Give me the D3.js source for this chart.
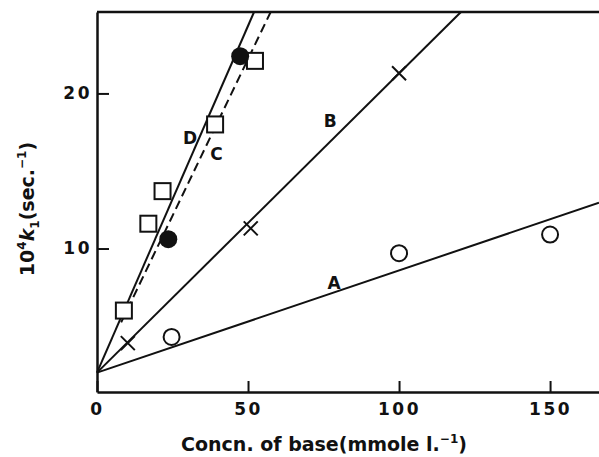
<!DOCTYPE html>
<html>
<head>
<meta charset="utf-8">
<script src="https://cdn.jsdelivr.net/npm/d3@7"></script>
<style>
  body { margin: 0; background: #fff; }
  svg text { font-family: "DejaVu Sans", sans-serif; font-weight: 700; fill: #111; }
</style>
</head>
<body>
<svg id="chart"></svg>
<script>
const size = { width: 599, height: 457 };
const margin = { left: 97, right: 0, top: 12, bottom: 65 };

// series A: open circles
const seriesA = [
  { x: 24.7, y: 4.3 },
  { x: 100, y: 9.7 },
  { x: 150, y: 10.9 },
];
// series B: crosses
const seriesB = [
  { x: 10.2, y: 3.9 },
  { x: 50.9, y: 11.3 },
  { x: 100, y: 21.3 },
];
// series C: filled circles
const seriesC = [
  { x: 23.6, y: 10.6 },
  { x: 47.4, y: 22.4 },
];
// series D: open squares
const seriesD = [
  { x: 8.9, y: 6.0 },
  { x: 17.0, y: 11.6 },
  { x: 21.7, y: 13.7 },
  { x: 39.1, y: 18.0 },
  { x: 52.3, y: 22.1 },
];

// fitted lines (end points)
const lineA = [{ x: 0, y: 2.0 }, { x: 166.2, y: 12.95 }];
const lineB = [{ x: 0, y: 2.0 }, { x: 120.5, y: 25.25 }];
const lineC = [{ x: 8, y: 5.24 }, { x: 57.5, y: 25.25 }];
const lineD = [{ x: 0, y: 2.0 }, { x: 52.0, y: 25.25 }];

const xTicks = [0, 50, 100, 150];
const yTicks = [10, 20];
const curveLabels = [
  { text: "A", x: 78.5, y: 7.8 },
  { text: "B", x: 77.2, y: 18.2 },
  { text: "C", x: 39.6, y: 16.1 },
  { text: "D", x: 30.8, y: 17.1 },
];

const svg = d3
  .select("#chart")
  .attr("width", size.width)
  .attr("height", size.height);

const x = d3
  .scaleLinear()
  .domain([0, 166.2])
  .range([margin.left, size.width - margin.right]);

const y = d3
  .scaleLinear()
  .domain([0.75, 25.25])
  .range([size.height - margin.bottom, margin.top]);

const tickFont = (g) =>
  g
    .selectAll(".tick text")
    .style("font-size", "17px")
    .style("font-family", "DejaVu Sans, sans-serif")
    .style("font-weight", 700)
    .style("letter-spacing", "2.5px")
    .attr("fill", "#111");

// axes (ticks point inward)
svg
  .append("g")
  .attr("transform", `translate(0, ${y(0.75)})`)
  .call(d3.axisBottom(x).tickValues(xTicks).tickSize(-11).tickPadding(11).tickSizeOuter(0))
  .call((g) => g.select(".domain").attr("stroke-width", 2.5).attr("stroke", "#111"))
  .call((g) => g.selectAll(".tick line").attr("stroke-width", 2).attr("stroke", "#111"))
  .call(tickFont);

svg
  .append("g")
  .attr("transform", `translate(${x(0)}, 0)`)
  .call(d3.axisLeft(y).tickValues(yTicks).tickSize(-12).tickPadding(4).tickSizeOuter(0))
  .call((g) => g.select(".domain").attr("stroke-width", 2.5).attr("stroke", "#111"))
  .call((g) => g.selectAll(".tick line").attr("stroke-width", 2).attr("stroke", "#111"))
  .call(tickFont)
  .call((g) => g.selectAll(".tick text").attr("x", -5));

// top frame line (right side is cut off in the original)
svg
  .append("line")
  .attr("x1", x(0))
  .attr("x2", x(166.2))
  .attr("y1", y(25.25))
  .attr("y2", y(25.25))
  .attr("stroke", "#111")
  .attr("stroke-width", 2.5);

const line = d3
  .line()
  .x((d) => x(d.x))
  .y((d) => y(d.y));

[lineA, lineB, lineD].forEach((l) => {
  svg
    .append("path")
    .datum(l)
    .attr("d", line)
    .attr("fill", "none")
    .attr("stroke", "#111")
    .attr("stroke-width", 2);
});
svg
  .append("path")
  .datum(lineC)
  .attr("d", line)
  .attr("fill", "none")
  .attr("stroke", "#111")
  .attr("stroke-width", 2)
  .style("stroke-dasharray", "9, 5");

// markers
svg
  .append("g")
  .selectAll("circle")
  .data(seriesA)
  .join("circle")
  .attr("cx", (d) => x(d.x))
  .attr("cy", (d) => y(d.y))
  .attr("r", 8)
  .attr("fill", "#fff")
  .attr("stroke", "#111")
  .attr("stroke-width", 2);

svg
  .append("g")
  .selectAll("path")
  .data(seriesB)
  .join("path")
  .attr("transform", (d) => `translate(${x(d.x)}, ${y(d.y)})`)
  .attr("d", "M-7,-7L7,7M-7,7L7,-7")
  .attr("stroke", "#111")
  .attr("stroke-width", 2);

svg
  .append("g")
  .selectAll("rect")
  .data(seriesD)
  .join("rect")
  .attr("x", (d) => x(d.x) - 8)
  .attr("y", (d) => y(d.y) - 8)
  .attr("width", 16)
  .attr("height", 16)
  .attr("fill", "#fff")
  .attr("stroke", "#111")
  .attr("stroke-width", 2);

svg
  .append("g")
  .selectAll("circle")
  .data(seriesC)
  .join("circle")
  .attr("cx", (d) => x(d.x))
  .attr("cy", (d) => y(d.y))
  .attr("r", 9)
  .attr("fill", "#111");

// curve labels
svg
  .append("g")
  .selectAll("text")
  .data(curveLabels)
  .join("text")
  .attr("x", (d) => x(d.x))
  .attr("y", (d) => y(d.y))
  .attr("text-anchor", "middle")
  .attr("dominant-baseline", "central")
  .style("font-size", "17px")
  .text((d) => d.text);

// axis titles
const xt = svg
  .append("text")
  .attr("x", 324)
  .attr("y", 451)
  .attr("text-anchor", "middle")
  .style("font-size", "19px");
xt.append("tspan").text("Concn. of base(mmole l.");
xt.append("tspan").attr("dy", -8).style("font-size", "12px").text("−1");
xt.append("tspan").attr("dy", 8).text(")");

const yt = svg
  .append("text")
  .attr("transform", "translate(34, 209) rotate(-90)")
  .attr("text-anchor", "middle")
  .style("font-size", "19px");
yt.append("tspan").text("10");
yt.append("tspan").attr("dy", -8).style("font-size", "12px").text("4");
yt.append("tspan").attr("dy", 8).style("font-style", "italic").text("k");
yt.append("tspan").attr("dy", 5).style("font-size", "12px").text("1");
yt.append("tspan").attr("dy", -5).text("(sec.");
yt.append("tspan").attr("dy", -8).style("font-size", "12px").text("−1");
yt.append("tspan").attr("dy", 8).text(")");
</script>
</body>
</html>
